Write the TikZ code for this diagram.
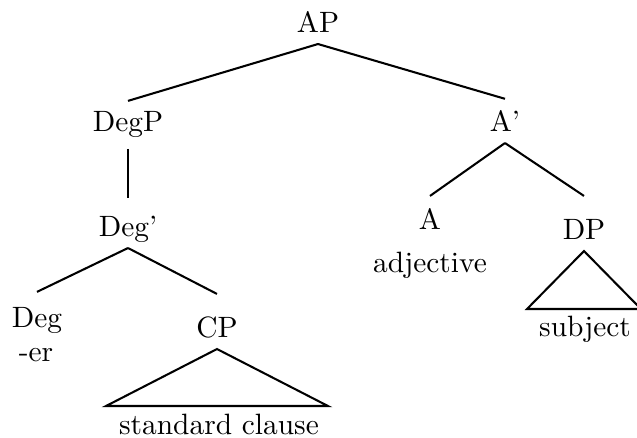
\documentclass[tikz,border=0pt]{standalone}

\begin{document}
\begin{tikzpicture}[x=0.34pt, y=-0.34pt, line width=0.7pt,
    cat/.style={anchor=base, inner xsep=0pt, inner ysep=3.4pt, text height=6.83pt, text depth=0pt},
    word/.style={anchor=base, inner sep=0pt}]
      \clip (0,0) rectangle (637,438);
      \draw
        (318,33) node[cat] (AP){AP}
        (128,132) node[cat] (DegP){DegP}
        (505,132) node[cat] (Abar){A'}
        (128,237) node[cat] (Degbar){Deg'}
        (37,328) node[cat] (Deg){Deg}
        (217,338) node[cat] (CP){CP}
        (430,230) node[cat] (A){A}
        (584,240) node[cat] (DP){DP}
        (36,362) node[word] (er){-er}
        (219,435) node[word] (clause){standard clause}
        (430,273) node[word] (adj){adjective}
        (585,337) node[word] (subj){subject};
      \begin{scope}[-]
        \draw (AP.south) -- (DegP.north);
        \draw (AP.south) -- ([yshift=0.7pt]Abar.north);
        \draw ([yshift=-2pt]DegP.south) -- ([yshift=2.7pt]Degbar.north);
        \draw (Degbar.south) -- ([yshift=1.7pt]Deg.north);
        \draw (Degbar.south) -- ([yshift=4.4pt]CP.north);
        \draw (Abar.south) -- ([yshift=1pt]A.north);
        \draw (Abar.south) -- ([yshift=4.4pt]DP.north);
        % roofs over the unanalysed phrases
        \draw (CP.south) -- ++(-111,57) -- ++(222,0) -- cycle;
        \draw (DP.south) -- ++(-57,58) -- ++(114,0) -- cycle;
      \end{scope}
    \end{tikzpicture}
\end{document}
